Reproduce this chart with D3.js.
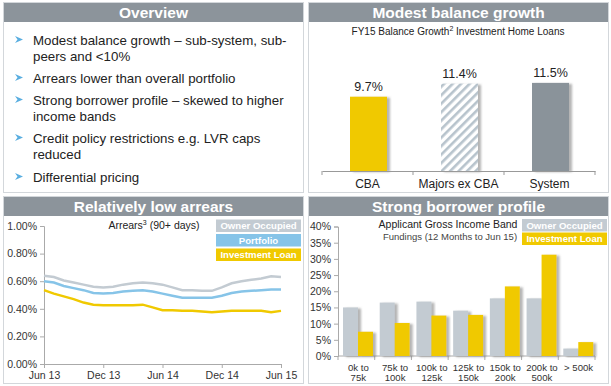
<!DOCTYPE html>
<html>
<head>
<meta charset="utf-8">
<script src="https://cdn.jsdelivr.net/npm/d3@7"></script>
<style>
body{margin:0;background:#fff;font-family:Arial,"Liberation Sans",sans-serif}
svg text{font-family:Arial,"Liberation Sans",sans-serif}
</style>
</head>
<body>
<script>
// overview bullets
var bullets=[
  ["Modest balance growth \u2013 sub-system, sub-","peers and <10%"],
  ["Arrears lower than overall portfolio"],
  ["Strong borrower profile \u2013 skewed to higher","income bands"],
  ["Credit policy restrictions e.g. LVR caps","reduced"],
  ["Differential pricing"]
]
// balance growth
var growthCats=["CBA","Majors ex CBA","System"]
var growthVals=[9.7,11.4,11.5]
// arrears, monthly Jun 13 .. Jun 15
var arrearsTicks=["Jun 13","Dec 13","Jun 14","Dec 14","Jun 15"]
var ownerOcc=[0.64,0.63,0.605,0.59,0.575,0.56,0.555,0.56,0.575,0.585,0.59,0.585,0.575,0.555,0.535,0.535,0.53,0.53,0.555,0.585,0.60,0.61,0.62,0.635,0.63]
var portfolio=[0.60,0.59,0.565,0.55,0.535,0.515,0.51,0.515,0.525,0.53,0.535,0.525,0.51,0.495,0.48,0.48,0.48,0.48,0.495,0.515,0.525,0.53,0.535,0.54,0.54]
var investLoan=[0.535,0.51,0.49,0.47,0.445,0.43,0.425,0.425,0.425,0.425,0.43,0.41,0.39,0.39,0.385,0.385,0.38,0.375,0.38,0.385,0.385,0.385,0.385,0.375,0.385]
var arrearsTickVals=[0,0.2,0.4,0.6,0.8,1.0]
// income band
var bands=[["0k to","75k"],["75k to","100k"],["100k to","125k"],["125k to","150k"],["150k to","200k"],["200k to","500k"],["> 500k",""]]
var bandOwner=[15,16.5,16.8,14,17.8,17.8,2.3]
var bandInvest=[7.5,10.2,12.5,12.7,21.5,31.3,4.3]
var bandTickVals=[0,5,10,15,20,25,30,35,40]

var yellow="#f0c900", grey="#c3cbd2", blue="#86c4e8", dark="#8c949b"

var svg=d3.select("body").append("svg").attr("width",611).attr("height",386)
var defs=svg.append("defs")
var sh=defs.append("filter").attr("id","shadow").attr("x","-20%").attr("y","-20%").attr("width","150%").attr("height","140%")
sh.append("feDropShadow").attr("dx",3).attr("dy",1).attr("stdDeviation",1.2).attr("flood-color","#777").attr("flood-opacity",0.55)
var pat=defs.append("pattern").attr("id","hatch").attr("patternUnits","userSpaceOnUse")
   .attr("width",6).attr("height",6).attr("patternTransform","rotate(45)")
pat.append("rect").attr("width",6).attr("height",6).attr("fill","#fff")
pat.append("rect").attr("width",2.6).attr("height",6).attr("fill","#b7c3cc")

var panel=function(x,y,w,h,title){
  var g=svg.append("g")
  g.append("rect").attr("x",x+0.5).attr("y",y+0.5).attr("width",w-1).attr("height",h-1)
   .attr("fill","#fff").attr("stroke","#d3d7db")
  g.append("rect").attr("x",x+1).attr("y",y+1).attr("width",w-2).attr("height",19).attr("fill",dark)
  g.append("text").attr("x",x+w/2).attr("y",y+16).attr("text-anchor","middle")
   .attr("fill","#fff").attr("font-weight","bold").attr("font-size",15.5).text(title)
}
panel(3,2,301,191,"Overview")
panel(308,2,301,191,"Modest balance growth")
panel(3,196,301,188,"Relatively low arrears")
panel(308,196,301,188,"Strong borrower profile")

// ---- overview
var bulletY=[45,83,105,143,182]
bullets.forEach(function(b,i){
  var y=bulletY[i]
  svg.append("path").attr("d","M15,"+(y-9)+"L23,"+(y-5.5)+"L15,"+(y-2)+"L17.5,"+(y-5.5)+"Z").attr("fill","#5aaee0")
  b.forEach(function(line,j){
    svg.append("text").attr("x",33).attr("y",y+j*15.5).attr("font-size",13.3).attr("fill","#222").text(line)
  })
})

// ---- balance growth
var gx=d3.scaleBand().domain(growthCats).range([322,595])
var gy=d3.scaleLinear().domain([0,13]).range([171,171-99.6])
var st=svg.append("text").attr("x",458).attr("y",35).attr("text-anchor","middle").attr("font-size",10).attr("fill","#222")
st.append("tspan").text("FY15 Balance Growth")
st.append("tspan").attr("font-size",7).attr("dy",-4).text("2")
st.append("tspan").attr("dy",4).text(" Investment Home Loans")
svg.append("g").selectAll("rect").data(growthVals).enter().append("rect")
   .attr("x",function(d,i){return gx(growthCats[i])+gx.bandwidth()/2-17.5})
   .attr("y",function(d){return gy(d)})
   .attr("width",37).attr("height",function(d){return gy(0)-gy(d)})
   .attr("fill",function(d,i){return i==0?yellow:(i==1?"url(#hatch)":"#8a939a")})
   .attr("filter","url(#shadow)")
svg.append("g").selectAll("text").data(growthVals).enter().append("text")
   .attr("x",function(d,i){return gx(growthCats[i])+gx.bandwidth()/2+1})
   .attr("y",function(d){return gy(d)-6}).attr("text-anchor","middle")
   .attr("font-size",12.5).attr("fill","#222").text(function(d){return d.toFixed(1)+"%"})
var gax=svg.append("g").attr("transform","translate(0,171)")
   .call(d3.axisBottom(gx).tickSize(0).tickPadding(8))
gax.select(".domain").attr("stroke","#999")
gax.selectAll("text").attr("font-size",12).attr("fill","#222")
gax.selectAll(".sep").data([322,322+91,322+182,595]).enter().append("line").attr("class","sep")
   .attr("x1",function(d){return d}).attr("x2",function(d){return d}).attr("y1",0).attr("y2",4).attr("stroke","#999")

// ---- arrears
var ax=d3.scaleLinear().domain([0,24]).range([44,281])
var ay=d3.scaleLinear().domain([0,1]).range([364,226])
var yA=svg.append("g").attr("transform","translate(44,0)")
   .call(d3.axisLeft(ay).tickValues(arrearsTickVals).tickSize(4).tickFormat(function(d){return d.toFixed(2)+"%"}))
yA.selectAll("text").attr("font-size",10.5).attr("fill","#333")
yA.selectAll("line,.domain").attr("stroke","#aaa")
var xA=svg.append("g").attr("transform","translate(0,364)")
   .call(d3.axisBottom(ax).tickValues([0,6,12,18,24]).tickSize(4).tickPadding(4).tickFormat(function(d,i){return arrearsTicks[i]}))
xA.selectAll("text").attr("font-size",10.5).attr("fill","#333")
xA.selectAll("line,.domain").attr("stroke","#aaa")
var line=d3.line().x(function(d,i){return ax(i)}).y(function(d){return ay(d)})
;[[ownerOcc,grey],[portfolio,blue],[investLoan,yellow]].forEach(function(s){
  svg.append("path").datum(s[0]).attr("d",line).attr("fill","none").attr("stroke",s[1]).attr("stroke-width",2.5)
})
var at=svg.append("text").attr("x",154).attr("y",229).attr("text-anchor","middle").attr("font-size",10.5).attr("fill","#222")
at.append("tspan").text("Arrears")
at.append("tspan").attr("font-size",7).attr("dy",-4).text("3")
at.append("tspan").attr("dy",4).text(" (90+ days)")
var legend=function(x,y,items,h,gap){
  items.forEach(function(it,i){
    var yy=y+i*(h+gap)
    svg.append("rect").attr("x",x).attr("y",yy).attr("width",85).attr("height",h).attr("fill",it[1])
    svg.append("text").attr("x",x+42.5).attr("y",yy+h/2+3.5).attr("text-anchor","middle")
       .attr("font-size",9.6).attr("font-weight","bold").attr("fill","#fff").text(it[0])
  })
}
legend(216,219.5,[["Owner Occupied",grey],["Portfolio",blue],["Investment Loan",yellow]],12.5,2)

// ---- income bands
var bx=d3.scaleBand().domain(d3.range(bands.length)).range([338,595])
var by=d3.scaleLinear().domain([0,40]).range([356,226.5])
var yB=svg.append("g").attr("transform","translate(338,0)")
   .call(d3.axisLeft(by).tickValues(bandTickVals).tickSize(4).tickFormat(function(d){return d+"%"}))
yB.selectAll("text").attr("font-size",10.5).attr("fill","#333")
yB.selectAll("line,.domain").attr("stroke","#aaa")
svg.append("line").attr("x1",338).attr("x2",595).attr("y1",356).attr("y2",356).attr("stroke","#aaa")
svg.append("g").selectAll("line").data(d3.range(bands.length+1)).enter().append("line")
   .attr("x1",function(d){return 338+d*bx.step()}).attr("x2",function(d){return 338+d*bx.step()})
   .attr("y1",356).attr("y2",360).attr("stroke","#aaa")
svg.append("g").selectAll("rect").data(bandOwner).enter().append("rect")
   .attr("x",function(d,i){return bx(i)+5}).attr("y",function(d){return by(d)})
   .attr("width",15).attr("height",function(d){return by(0)-by(d)}).attr("fill",grey).attr("filter","url(#shadow)")
svg.append("g").selectAll("rect").data(bandInvest).enter().append("rect")
   .attr("x",function(d,i){return bx(i)+20}).attr("y",function(d){return by(d)})
   .attr("width",15).attr("height",function(d){return by(0)-by(d)}).attr("fill",yellow).attr("filter","url(#shadow)")
bands.forEach(function(b,i){
  b.forEach(function(t,j){
    svg.append("text").attr("x",bx(i)+bx.bandwidth()/2+2).attr("y",371+j*10).attr("text-anchor","middle")
       .attr("font-size",9.6).attr("fill","#333").text(t)
  })
})
svg.append("text").attr("x",448).attr("y",228).attr("text-anchor","middle").attr("font-size",10.5).attr("fill","#222").text("Applicant Gross Income Band")
svg.append("text").attr("x",450).attr("y",239.5).attr("text-anchor","middle").attr("font-size",9.5).attr("fill","#444").text("Fundings (12 Months to Jun 15)")
legend(522,219,[["Owner Occupied",grey],["Investment Loan",yellow]],12.5,1)
</script>
</body>
</html>
